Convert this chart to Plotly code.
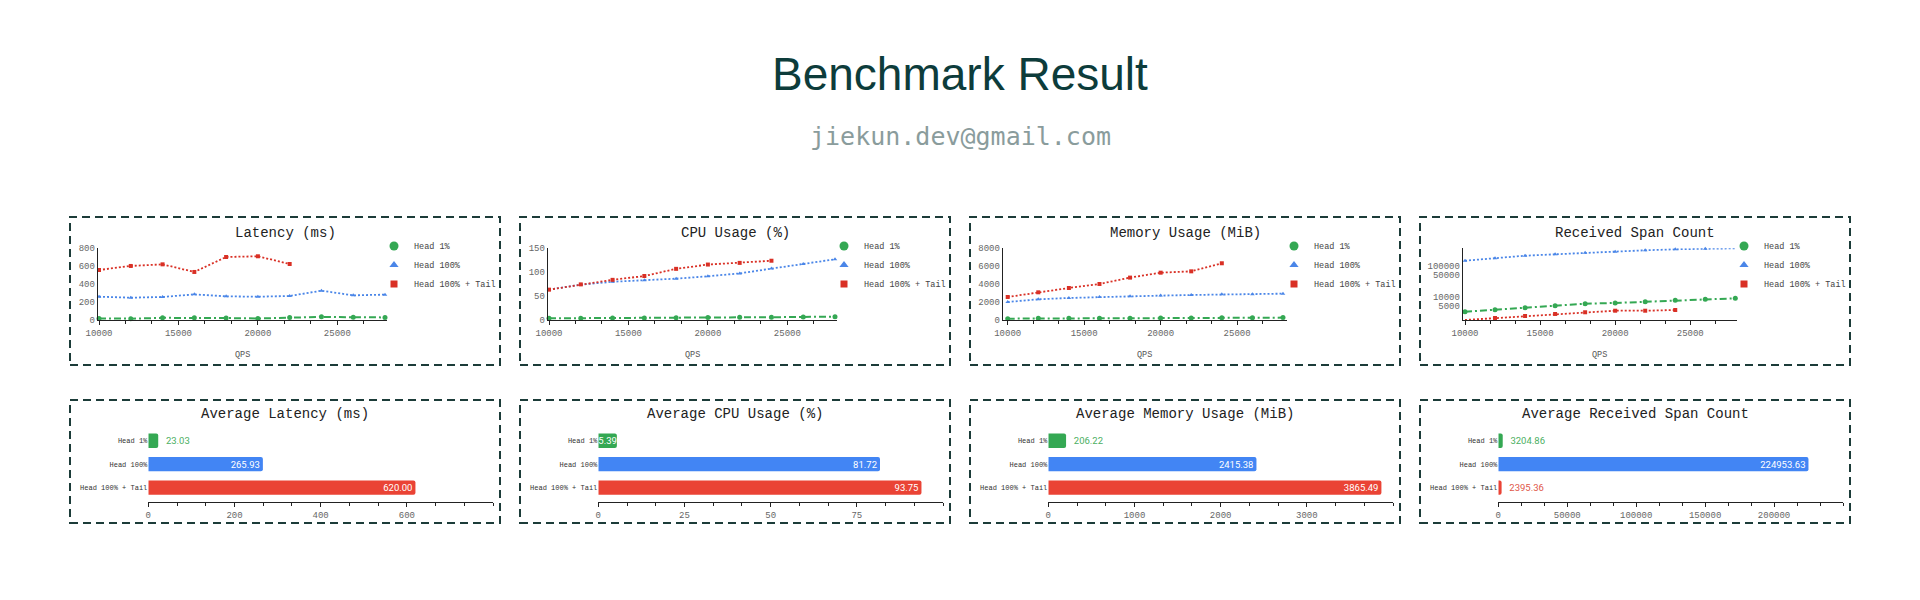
import plotly.graph_objects as go

W, H = 1920, 600

# ---------------- data ----------------
series_names = ["Head 1%", "Head 100%", "Head 100% + Tail"]
qps = [10000, 12000, 14000, 16000, 18000, 20000, 22000, 24000, 26000, 28000]
qps_tail_latency = [10000, 12000, 14000, 16000, 18000, 20000, 22000]
qps_tail = [10000, 12000, 14000, 16000, 18000, 20000, 22000, 24000]

latency_head1 = [18, 15, 24, 26, 22, 17, 29, 35, 31, 29]
latency_head100 = [260, 249, 257, 286, 264, 260, 268, 327, 275, 283]
latency_tail = [558, 603, 621, 536, 703, 711, 625]

cpu_head1 = [3.5, 3.6, 4.2, 4.3, 4.9, 5.0, 5.6, 5.8, 6.3, 7.0]
cpu_head100 = [63.5, 74, 80, 83, 86.5, 91.5, 97.5, 107.5, 117, 127]
cpu_tail = [63.5, 74.5, 84, 92, 107, 116, 119.5, 124]

mem_head1 = [150, 185, 190, 190, 195, 220, 225, 255, 260, 265]
mem_head100 = [2010, 2310, 2460, 2570, 2640, 2720, 2790, 2860, 2870, 2940]
mem_tail = [2570, 3090, 3570, 4020, 4730, 5280, 5430, 6330]

span_head1 = [3280, 3810, 4420, 5130, 5940, 6260, 6900, 7650, 8240, 8870]
span_head100 = [145000, 173000, 210000, 233000, 262000, 283000, 314000, 338000, 353000, 364000]
span_tail = [1770, 2050, 2380, 2770, 3140, 3530, 3530, 3720]

avg_latency = [23.03, 265.93, 620.00]
avg_cpu = [5.39, 81.72, 93.75]
avg_mem = [206.22, 2415.38, 3865.49]
avg_span = [3204.86, 224953.63, 2395.36]

line_titles = ["Latency (ms)", "CPU Usage (%)", "Memory Usage (MiB)", "Received Span Count"]
bar_titles = ["Average Latency (ms)", "Average CPU Usage (%)",
              "Average Memory Usage (MiB)", "Average Received Span Count"]

# ---------------- styles ----------------
LINE_COLORS = ["#34a853", "#4a86e8", "#d93025"]
BAR_COLORS = ["#34a853", "#4285f4", "#ea4335"]
OUT_TEXT_COLORS = ["#4caf62", "#4285f4", "#e0574a"]
SYMBOLS = ["circle", "triangle-up", "square"]
DASHES = ["7px,3px,2px,3px", "2px,2px", "2px,2px"]
MONO = "Courier New, Liberation Mono, monospace"
BOX_COLOR = "#1c3c39"
AXIS_COLOR = "#222222"
TICK_FONT = dict(family=MONO, size=9, color="#666666")


def px_x(v):
    return v / W


def px_y(v):
    return 1 - v / H


fig = go.Figure()

box_lefts = [70 + 450 * i for i in range(4)]
line_left_off = [27.7, 27.7, 32.7, 42.7]
line_xranges = [[9918, 28126], [9918, 28126], [9673, 28262], [9847, 28113]]
line_yranges = [[0, 800], [0, 150], [0, 8000], [3.248, 5.561]]
line_ytickvals = [[0, 200, 400, 600, 800], [0, 50, 100, 150],
                  [0, 2000, 4000, 6000, 8000], [5000, 10000, 50000, 100000]]

line_data = [
    (latency_head1, latency_head100, latency_tail, qps_tail_latency),
    (cpu_head1, cpu_head100, cpu_tail, qps_tail),
    (mem_head1, mem_head100, mem_tail, qps_tail),
    (span_head1, span_head100, span_tail, qps_tail),
]

bar_data = [avg_latency, avg_cpu, avg_mem, avg_span]
bar_xranges = [[0, 800], [0, 100], [0, 4000], [0, 250000]]
bar_tickvals = [[0, 200, 400, 600], [0, 25, 50, 75], [0, 1000, 2000, 3000],
                [0, 50000, 100000, 150000, 200000]]
bar_minor = [800 / 12, 100 / 12, 4000 / 12, 50000 / 3]
# text placement per bar: "end" (inside, at bar end), "middle" (inside, centred), "outside"
bar_text_mode = [
    ["outside", "end", "end"],
    ["middle", "end", "end"],
    ["outside", "end", "end"],
    ["outside", "end", "outside"],
]

shapes = []
annotations = []
layout_axes = {}

for i in range(4):
    bl = box_lefts[i]
    ax = i + 1
    xa = "x" if ax == 1 else f"x{ax}"
    ya = "y" if ax == 1 else f"y{ax}"
    leg = "legend" if ax == 1 else f"legend{ax}"
    h1, h100, tail, qt = line_data[i]
    xs_list = [qps, qps, qt]
    ys_list = [h1, h100, tail]
    for k in range(3):
        fig.add_trace(go.Scatter(
            x=xs_list[k], y=ys_list[k], mode="lines+markers",
            name=series_names[k], showlegend=False,
            line=dict(color=LINE_COLORS[k], width=2 if k == 0 else 1.8, dash=DASHES[k]),
            marker=dict(symbol=SYMBOLS[k], size=5 if k == 0 else 4, color=LINE_COLORS[k]),
            xaxis=xa, yaxis=ya, cliponaxis=False,
        ))
    for k in range(3):
        fig.add_trace(go.Scatter(
            x=[None], y=[None], mode="markers", name=series_names[k],
            marker=dict(symbol=SYMBOLS[k], size=[9, 8, 7][k], color=LINE_COLORS[k]),
            xaxis=xa, yaxis=ya, legend=leg, showlegend=True,
        ))
    xkey = "xaxis" if ax == 1 else f"xaxis{ax}"
    ykey = "yaxis" if ax == 1 else f"yaxis{ax}"
    x0 = bl + line_left_off[i]
    x1 = bl + 317
    layout_axes[xkey] = dict(
        domain=[px_x(x0), px_x(x1)], range=line_xranges[i], anchor=ya,
        showline=True, linecolor=AXIS_COLOR, linewidth=1,
        ticks="outside", ticklen=4, tickcolor=AXIS_COLOR, tickwidth=1,
        tickmode="linear", tick0=10000, dtick=5000, tickformat="d",
        minor=dict(tickmode="linear", tick0=10000, dtick=5000 / 3, ticks="outside",
                   ticklen=3, tickcolor=AXIS_COLOR, tickwidth=1, showgrid=False),
        showgrid=False, zeroline=False, tickfont=TICK_FONT,
    )
    yd = dict(
        domain=[px_y(320), px_y(248.3)], range=line_yranges[i], anchor=xa,
        showline=True, linecolor=AXIS_COLOR, linewidth=1, ticks="",
        tickmode="array", tickvals=line_ytickvals[i],
        ticktext=[str(v) for v in line_ytickvals[i]],
        showgrid=False, zeroline=False, tickfont=TICK_FONT,
    )
    if i == 3:
        yd["type"] = "log"
    layout_axes[ykey] = yd
    layout_axes[leg] = dict(
        x=px_x(bl + 304), y=px_y(231.5), xanchor="left", yanchor="top",
        bgcolor="rgba(0,0,0,0)", borderwidth=0,
        font=dict(family=MONO, size=8.5, color="#444444"),
        itemclick=False, itemdoubleclick=False,
    )
    shapes.append(dict(type="rect", xref="paper", yref="paper",
                       x0=px_x(bl), x1=px_x(bl + 430), y0=px_y(365), y1=px_y(217),
                       line=dict(color=BOX_COLOR, width=2, dash="8px,5px"),
                       fillcolor="rgba(0,0,0,0)", layer="above"))
    annotations.append(dict(text=line_titles[i], xref="paper", yref="paper",
                            x=px_x(bl + 215), y=px_y(233), xanchor="center", yanchor="middle",
                            showarrow=False, font=dict(family=MONO, size=14, color="#222222")))
    annotations.append(dict(text="QPS", xref="paper", yref="paper",
                            x=px_x((x0 + x1) / 2), y=px_y(355), xanchor="center", yanchor="middle",
                            showarrow=False, font=dict(family=MONO, size=8.5, color="#555555")))

for i in range(4):
    bl = box_lefts[i]
    ax = i + 5
    xa = f"x{ax}"
    ya = f"y{ax}"
    vals = bar_data[i]
    for k in range(3):
        mode = bar_text_mode[i][k]
        fig.add_trace(go.Bar(
            x=[vals[k]], y=[series_names[k]], orientation="h", name=series_names[k],
            marker=dict(color=BAR_COLORS[k], line=dict(width=0)),
            texttemplate="%{x:.2f}" if mode != "outside" else "\u00a0\u00a0%{x:.2f}",
            textposition="inside" if mode != "outside" else "outside",
            insidetextanchor="middle" if mode == "middle" else "end",
            textfont=dict(family="Roboto, Arial, sans-serif", size=9.5,
                          color="#ffffff" if mode != "outside" else OUT_TEXT_COLORS[k]),
            constraintext="none", cliponaxis=False, showlegend=False,
            xaxis=xa, yaxis=ya,
        ))
    layout_axes[f"xaxis{ax}"] = dict(
        domain=[px_x(bl + 78.3), px_x(bl + 423)], range=bar_xranges[i], anchor=ya,
        showline=True, linecolor=AXIS_COLOR, linewidth=1,
        ticks="outside", ticklen=4, tickcolor=AXIS_COLOR, tickwidth=1,
        tickmode="array", tickvals=bar_tickvals[i],
        ticktext=[str(v) for v in bar_tickvals[i]],
        minor=dict(tickmode="linear", tick0=0, dtick=bar_minor[i], ticks="outside",
                   ticklen=3, tickcolor=AXIS_COLOR, tickwidth=1, showgrid=False),
        showgrid=False, zeroline=False, tickfont=TICK_FONT,
    )
    layout_axes[f"yaxis{ax}"] = dict(
        domain=[px_y(501.7), px_y(429)], range=[2.6, -0.5], anchor=xa,
        type="category", categoryorder="array", categoryarray=series_names,
        showline=False, ticks="", showgrid=False, zeroline=False,
        tickfont=dict(family=MONO, size=7, color="#333333"),
    )
    shapes.append(dict(type="rect", xref="paper", yref="paper",
                       x0=px_x(bl), x1=px_x(bl + 430), y0=px_y(523), y1=px_y(400),
                       line=dict(color=BOX_COLOR, width=2, dash="8px,5px"),
                       fillcolor="rgba(0,0,0,0)", layer="above"))
    annotations.append(dict(text=bar_titles[i], xref="paper", yref="paper",
                            x=px_x(bl + 215), y=px_y(414), xanchor="center", yanchor="middle",
                            showarrow=False, font=dict(family=MONO, size=14, color="#222222")))

annotations.append(dict(text="Benchmark Result", xref="paper", yref="paper",
                        x=0.5, y=px_y(74.5), xanchor="center", yanchor="middle", showarrow=False,
                        font=dict(family="Liberation Sans, Arial, sans-serif", size=46, color="#0d3c3b")))
annotations.append(dict(text="jiekun.dev@gmail.com", xref="paper", yref="paper",
                        x=0.5, y=px_y(137), xanchor="center", yanchor="middle", showarrow=False,
                        font=dict(family="DejaVu Sans Mono, monospace", size=25, color="#8a9c9c")))

fig.update_layout(
    width=W, height=H, autosize=False,
    margin=dict(l=0, r=0, t=0, b=0, pad=0),
    template="none",
    paper_bgcolor="white", plot_bgcolor="rgba(0,0,0,0)",
    barmode="overlay", bargap=0.39, barcornerradius=2,
    shapes=shapes, annotations=annotations,
    **layout_axes,
)

fig.write_html("out.html", config={"displayModeBar": False},
               post_script="document.body.style.margin='0';document.body.style.overflow='hidden';")
